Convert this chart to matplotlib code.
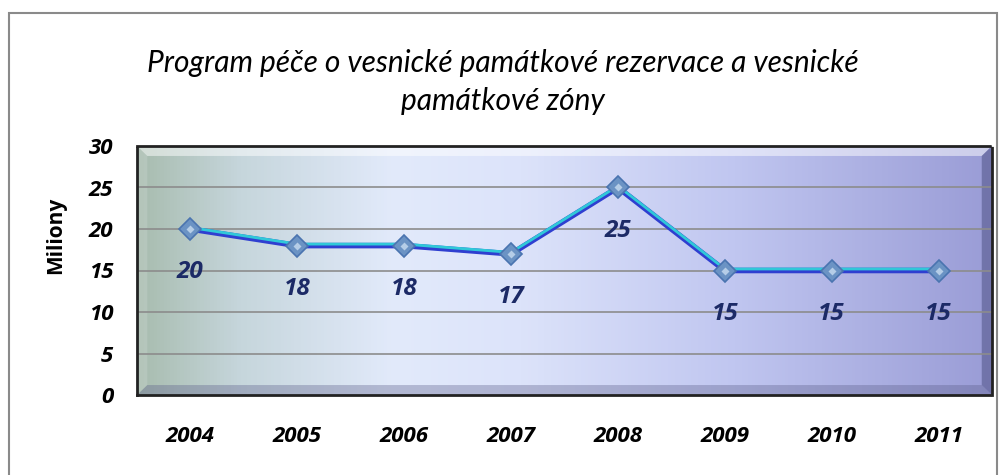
import numpy as np
import matplotlib
matplotlib.use("Agg")
import matplotlib.pyplot as plt
import matplotlib.transforms as mtransforms
from matplotlib.colors import LinearSegmentedColormap
from matplotlib.patches import Rectangle, Polygon

years = ["2004", "2005", "2006", "2007", "2008", "2009", "2010", "2011"]
values = [20, 18, 18, 17, 25, 15, 15, 15]
title = "Program péče o vesnické památkové rezervace a vesnické\npamátkové zóny"
ylabel = "Miliony"
yticks = [0, 5, 10, 15, 20, 25, 30]

plt.rcParams['font.family'] = ['Open Sans', 'DejaVu Sans']

fig = plt.figure(figsize=(10.06, 4.75), dpi=100)
fig.patch.set_facecolor('white')
# outer border
fig.add_artist(Rectangle((9/1006, -0.01), 988/1006, (475-13)/475 + 0.01, transform=fig.transFigure,
                         fill=False, edgecolor='#8a8a8a', linewidth=1.5))

ax = fig.add_axes([137/1006, 1 - 395/475, (992-137)/1006, (395-146)/475])
x = np.arange(len(years))
ax.set_xlim(-0.5, len(years) - 0.5)
ax.set_ylim(0, 30)

# background gradient
cmap = LinearSegmentedColormap.from_list('bg', [
    (0.0, '#a8bcae'), (0.12, '#c6d6dc'), (0.3, '#e2eafb'), (0.45, '#dce3fa'),
    (0.7, '#c0c6f0'), (1.0, '#9a9cd6')])
grad = np.linspace(0, 1, 256).reshape(1, -1)
ax.imshow(grad, extent=(0, 1, 0, 1), transform=ax.transAxes, aspect='auto', cmap=cmap, zorder=0)
# bevel
bw = 0.012
bh = 0.04
ax.add_patch(Polygon([(0, 1), (1, 1), (1 - bw, 1 - bh), (bw, 1 - bh)], closed=True,
                     transform=ax.transAxes, facecolor='white', alpha=0.5, edgecolor='none', zorder=0.5))
ax.add_patch(Polygon([(1, 1), (1, 0), (1 - bw, bh), (1 - bw, 1 - bh)], closed=True,
                     transform=ax.transAxes, facecolor='#4a4c80', alpha=0.5, edgecolor='none', zorder=0.5))
ax.add_patch(Polygon([(0, 0), (1, 0), (1 - bw, bh), (bw, bh)], closed=True,
                     transform=ax.transAxes, facecolor='#5a5c88', alpha=0.35, edgecolor='none', zorder=0.5))
ax.add_patch(Polygon([(0, 0), (0, 1), (bw, 1 - bh), (bw, bh)], closed=True,
                     transform=ax.transAxes, facecolor='#ffffff', alpha=0.15, edgecolor='none', zorder=0.5))

ax.set_yticks(yticks)
for yv in yticks[1:-1]:
    ax.axhline(yv, color='#8c8c8c', linewidth=1.2, zorder=1)

# line: dark blue base with cyan highlight
off_up = mtransforms.offset_copy(ax.transData, fig=fig, x=0, y=1.5, units='dots')
ax.plot(x, values, color='#2f3fd0', linewidth=4.0, zorder=3, solid_capstyle='round')
ax.plot(x, values, color='#30c8d8', linewidth=2.0, zorder=3.5, transform=off_up)
ax.plot(x, values, linestyle='none', marker='D', markersize=11, markerfacecolor='#6b93c4',
        markeredgecolor='#4a74b0', markeredgewidth=1.2, zorder=4)
ax.plot(x, values, linestyle='none', marker='D', markersize=4, markerfacecolor='#c8dcf0',
        markeredgecolor='none', zorder=4.5, alpha=0.8)

for xi, v in zip(x, values):
    ax.annotate(str(v), (xi, v), xytext=(0, -31), textcoords='offset points',
                ha='center', va='center', fontsize=17.5, fontweight='bold', fontstyle='italic',
                color='#1c2a66', zorder=5)

for s in ax.spines.values():
    s.set_linestyle((0, (1, 1)))
    s.set_linewidth(2)
    s.set_edgecolor('#222222')

ax.set_xticks(x)
ax.set_xticklabels(years, fontsize=16, fontweight='bold', fontstyle='italic')
ax.set_yticklabels([str(t) for t in yticks], fontsize=16, fontweight='bold', fontstyle='italic')
ax.tick_params(length=0, pad=17)
ax.tick_params(axis='x', pad=22)

fig.text(56/1006, 1 - 235/475, ylabel, rotation=90, ha='center', va='center',
         fontsize=15, fontweight='bold')

fig.text(503/1006, 1 - 82/475, title, ha='center', va='center', fontsize=21.5, fontstyle='italic',
         family=['Lato', 'DejaVu Sans'], linespacing=1.4)

fig.savefig('out.png', dpi=100)
